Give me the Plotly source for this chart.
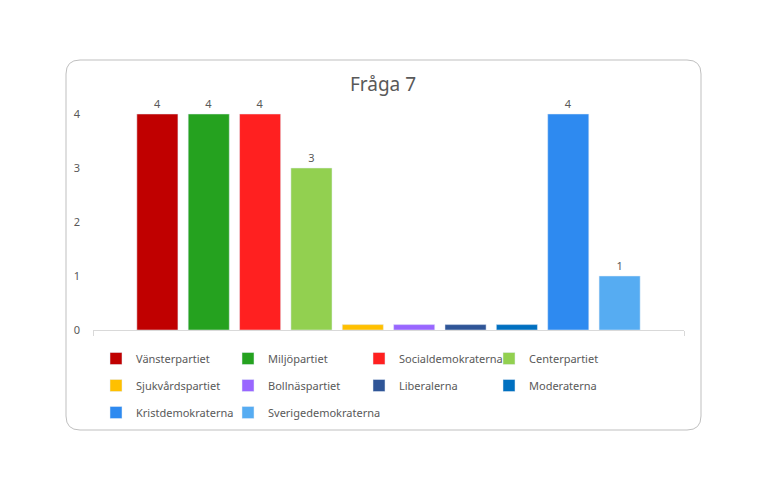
import plotly.graph_objects as go

# Fråga 7 - one category, one series per party (Excel-style clustered column)
parties = ["Vänsterpartiet", "Miljöpartiet", "Socialdemokraterna", "Centerpartiet",
           "Sjukvårdspartiet", "Bollnäspartiet", "Liberalerna", "Moderaterna",
           "Kristdemokraterna", "Sverigedemokraterna"]
values = [4, 4, 4, 3, 0.1, 0.1, 0.1, 0.1, 4, 1]
labels = ["4", "4", "4", "3", "", "", "", "", "4", "1"]
colors = ["#C00000", "#25A21F", "#FF2020", "#92D050", "#FFC000",
          "#9966FF", "#2F5597", "#0070C0", "#2E8AF0", "#56ACF2"]

W, H = 776, 496
# plot area in pixels (page has an 8px body margin, so everything is shifted by -8)
PX0, PX1, PY0, PY1 = 85, 676, 79, 322
GRAY = "#595959"
FONT = "Noto Sans"


def px_x(px):
    return (px - PX0) / (PX1 - PX0)


def px_y(py):
    return (PY1 - py) / (PY1 - PY0)


fig = go.Figure()
legend_ids = ["legend", "legend2", "legend3", "legend4"]
for i, (name, val, lab, col) in enumerate(zip(parties, values, labels, colors)):
    fig.add_trace(go.Bar(
        x=[0.5], y=[val], name=name, marker_color=col,
        text=[lab], textposition="outside", cliponaxis=False,
        textfont=dict(color=GRAY, size=11, family=FONT),
        legend=legend_ids[i % 4], legendgroup=name,
    ))

# legend columns: one vertical legend per column
col_x = [88, 220, 351, 481]
legend_top = 336
legend_common = dict(
    orientation="v", xref="container", yref="container",
    xanchor="left", yanchor="top", y=1 - legend_top / H,
    tracegroupgap=8,
    font=dict(color=GRAY, size=11, family=FONT),
    bgcolor="rgba(0,0,0,0)", itemclick=False, itemdoubleclick=False,
)

# rounded chart border
r = 14
bx0, bx1, by0, by1 = 58, 693, 52, 422
path = (f"M {px_x(bx0 + r)},{px_y(by0)} L {px_x(bx1 - r)},{px_y(by0)} "
        f"Q {px_x(bx1)},{px_y(by0)} {px_x(bx1)},{px_y(by0 + r)} "
        f"L {px_x(bx1)},{px_y(by1 - r)} "
        f"Q {px_x(bx1)},{px_y(by1)} {px_x(bx1 - r)},{px_y(by1)} "
        f"L {px_x(bx0 + r)},{px_y(by1)} "
        f"Q {px_x(bx0)},{px_y(by1)} {px_x(bx0)},{px_y(by1 - r)} "
        f"L {px_x(bx0)},{px_y(by0 + r)} "
        f"Q {px_x(bx0)},{px_y(by0)} {px_x(bx0 + r)},{px_y(by0)} Z")

fig.update_layout(
    width=W, height=H,
    margin=dict(l=PX0, r=W - PX1, t=PY0, b=H - PY1, autoexpand=False),
    paper_bgcolor="white", plot_bgcolor="white",
    barmode="group", bargap=0.131, bargroupgap=0.2,
    title=dict(text="Fråga 7", x=(375) / W, xanchor="center", y=1 - 76 / H, yanchor="middle",
               font=dict(color=GRAY, size=19, family=FONT)),
    xaxis=dict(range=[0, 1], tickvals=[0, 1], showticklabels=False,
               ticks="outside", ticklen=5, tickcolor="#D9D9D9",
               showline=True, linecolor="#D9D9D9", showgrid=False, zeroline=False),
    yaxis=dict(range=[0, 4.5], tickvals=[0, 1, 2, 3, 4], showgrid=False, zeroline=False,
               showline=False, ticklabelstandoff=12,
               tickfont=dict(color=GRAY, size=11, family=FONT)),
    legend=dict(legend_common, x=col_x[0] / W),
    legend2=dict(legend_common, x=col_x[1] / W),
    legend3=dict(legend_common, x=col_x[2] / W),
    legend4=dict(legend_common, x=col_x[3] / W),
    shapes=[dict(type="path", xref="paper", yref="paper", path=path,
                 line=dict(color="#BFBFBF", width=1), layer="below")],
)

fig.write_html("out.html")
